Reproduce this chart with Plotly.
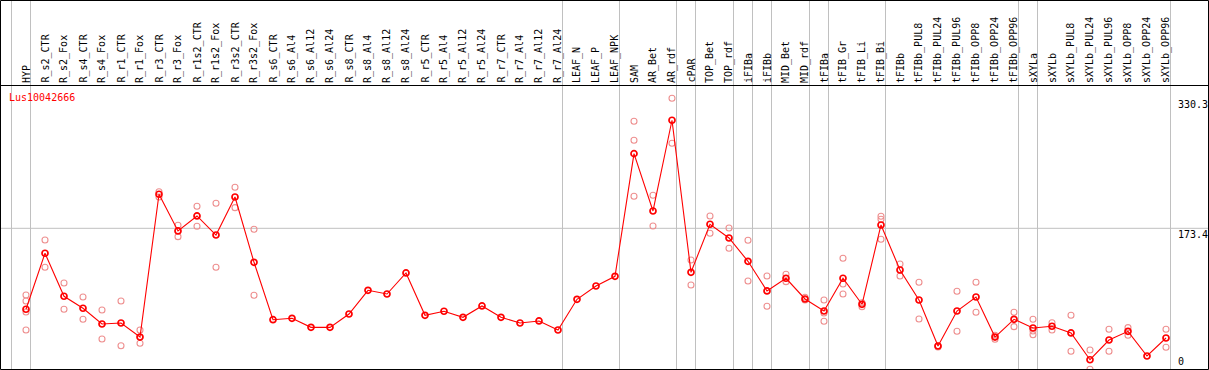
import plotly.graph_objects as go

W, H = 1209, 370

categories = ["HYP", "R_s2_CTR", "R_s2_Fox", "R_s4_CTR", "R_s4_Fox", "R_r1_CTR", "R_r1_Fox",
              "R_r3_CTR", "R_r3_Fox", "R_r1s2_CTR", "R_r1s2_Fox", "R_r3s2_CTR", "R_r3s2_Fox",
              "R_s6_CTR", "R_s6_Al4", "R_s6_Al12", "R_s6_Al24", "R_s8_CTR", "R_s8_Al4", "R_s8_Al12",
              "R_s8_Al24", "R_r5_CTR", "R_r5_Al4", "R_r5_Al12", "R_r5_Al24", "R_r7_CTR", "R_r7_Al4",
              "R_r7_Al12", "R_r7_Al24", "LEAF_N", "LEAF_P", "LEAF_NPK", "SAM", "AR_Bet", "AR_rdf",
              "cPAR", "TOP_Bet", "TOP_rdf", "iFIBa", "iFIBb", "MID_Bet", "MID_rdf", "tFIBa",
              "tFIB_Gr", "tFIB_Li", "tFIB_Bi", "tFIBb", "tFIBb_PUL8", "tFIBb_PUL24", "tFIBb_PUL96",
              "tFIBb_OPP8", "tFIBb_OPP24", "tFIBb_OPP96", "sXYLa", "sXYLb", "sXYLb_PUL8",
              "sXYLb_PUL24", "sXYLb_PUL96", "sXYLb_OPP8", "sXYLb_OPP24", "sXYLb_OPP96"]

means = [75.7, 143.3, 91.4, 76.9, 57.9, 59.1, 42.2, 214.5, 170.2, 188.3, 165.3, 211.2, 132.4,
         63.1, 64.8, 53.9, 53.9, 70.0, 98.6, 94.1, 119.5, 68.4, 73.3, 66.0, 79.7, 66.0, 59.1,
         61.6, 50.7, 87.7, 103.8, 115.5, 263.5, 194.3, 303.8, 120.3, 178.3, 161.7, 133.6, 97.8,
         113.1, 88.1, 73.6, 113.1, 81.7, 177.4, 123.1, 86.9, 31.4, 73.6, 90.5, 42.2, 63.6, 53.1,
         55.2, 47.1, 14.8, 38.6, 49.1, 19.3, 41.0]

replicates = [
    [92.9, 85.7, 72.4, 50.7], [159.3, 126.4], [107.4, 75.7], [90.5, 63.6], [74.8, 39.8],
    [85.7, 31.7], [50.7, 34.6], [217.6, 211.2], [177.1, 163.3], [200.0, 175.8], [203.6, 126.4],
    [222.9, 198.3], [172.2, 92.6],
    [], [], [], [], [], [], [], [], [], [], [], [], [], [], [], [], [], [], [],
    [302.6, 279.6, 212.1], [213.3, 176.2], [330.3, 276.0], [135.2, 105.0], [188.3, 167.4],
    [173.8, 149.3], [158.9, 109.8], [115.9, 79.3], [117.9, 109.0], [90.2, 86.9],
    [86.9, 71.2, 61.2], [137.2, 106.2, 94.1], [83.6, 78.8], [187.9, 184.3, 160.2],
    [130.3, 115.9], [108.3, 64.0], [31.4, 30.2], [97.4, 49.1], [108.3, 72.1], [44.3, 39.5],
    [72.1, 54.7], [63.6, 49.5, 45.0], [59.5, 50.7], [68.4, 25.0], [26.6, 3.3], [51.5, 25.0],
    [53.5, 44.3], [], [51.5, 29.8],
]

group_ends = ["HYP", "R_r7_Al24", "LEAF_NPK", "AR_rdf", "cPAR", "TOP_rdf", "iFIBa", "iFIBb",
              "MID_rdf", "tFIBa", "tFIB_Bi", "tFIBb_OPP96", "sXYLa", "sXYLb_OPP96"]

y_tick_vals = [330.3, 173.4, 0]
y_tick_text = ["330.3", "173.4", "0"]
title_text = "Lus10042666"

FONT = "DejaVu Sans Mono"
idx = list(range(len(categories)))

rep_x, rep_y = [], []
for i, reps in enumerate(replicates):
    for v in reps:
        rep_x.append(i)
        rep_y.append(v)

fig = go.Figure()
fig.add_trace(go.Scatter(x=rep_x, y=rep_y, mode="markers",
                         marker=dict(symbol="circle-open", size=6, color="#EE9090",
                                     line=dict(width=1.1, color="#EE9090")),
                         hoverinfo="skip", showlegend=False))
fig.add_trace(go.Scatter(x=idx, y=means, mode="lines",
                         line=dict(color="#FF0000", width=1.1),
                         hoverinfo="skip", showlegend=False))
fig.add_trace(go.Scatter(x=idx, y=means, mode="markers",
                         marker=dict(symbol="circle-open", size=6, color="#FF0000",
                                     line=dict(width=1.7, color="#FF0000")),
                         text=categories, showlegend=False))


def px_x(p):
    return p / W


def px_y(p):
    return 1 - p / H


shapes = []
# vertical group separators
for name in ["__start__"] + group_ends:
    i = -1 if name == "__start__" else categories.index(name)
    shapes.append(dict(type="line", xref="x", yref="paper", x0=i + 0.237, x1=i + 0.237,
                       y0=0, y1=1, line=dict(color="#C0C0C0", width=1), layer="below"))
# horizontal grid line
shapes.append(dict(type="line", xref="paper", yref="y", x0=0, x1=1, y0=y_tick_vals[1],
                   y1=y_tick_vals[1], line=dict(color="#C0C0C0", width=1), layer="below"))
# frame
shapes.append(dict(type="rect", xref="paper", yref="paper", x0=px_x(0.5), x1=px_x(1208.5),
                   y0=px_y(369.5), y1=px_y(0.5), line=dict(color="black", width=1)))
shapes.append(dict(type="line", xref="paper", yref="paper", x0=0, x1=1,
                   y0=px_y(85.5), y1=px_y(85.5), line=dict(color="black", width=1)))

annotations = []
for i, c in enumerate(categories):
    annotations.append(dict(x=i, y=px_y(85), xref="x", yref="paper", text=c, showarrow=False,
                            textangle=-90, xanchor="center", yanchor="bottom",
                            font=dict(family=FONT, size=10, color="black")))

annotations.append(dict(x=px_x(7), y=px_y(90), xref="paper", yref="paper", text=title_text,
                        showarrow=False, xanchor="left", yanchor="top",
                        font=dict(family=FONT, size=10, color="#FF0000")))

for v, t in zip(y_tick_vals, y_tick_text):
    if v == 0:
        annotations.append(dict(x=px_x(1176), y=px_y(369), xref="paper", yref="paper", text=t,
                                showarrow=False, xanchor="left", yanchor="bottom",
                                font=dict(family=FONT, size=10, color="black")))
    else:
        annotations.append(dict(x=px_x(1176), y=v, xref="paper", yref="y", text=t,
                                showarrow=False, xanchor="left", yanchor="top",
                                yshift=1,
                                font=dict(family=FONT, size=10, color="black")))

fig.update_layout(
    width=W, height=H,
    margin=dict(l=0, r=0, t=0, b=0),
    paper_bgcolor="white", plot_bgcolor="white",
    xaxis=dict(range=[-26 / 19, (W - 26) / 19], visible=False, showgrid=False, zeroline=False,
               fixedrange=True),
    yaxis=dict(range=[2.41, 448.9], visible=False, showgrid=False, zeroline=False,
               fixedrange=True),
    shapes=shapes, annotations=annotations,
    showlegend=False,
)

fig.write_html("out.html",
               config={"displayModeBar": False},
               post_script="document.body.style.margin='0';document.body.style.overflow='hidden';")
